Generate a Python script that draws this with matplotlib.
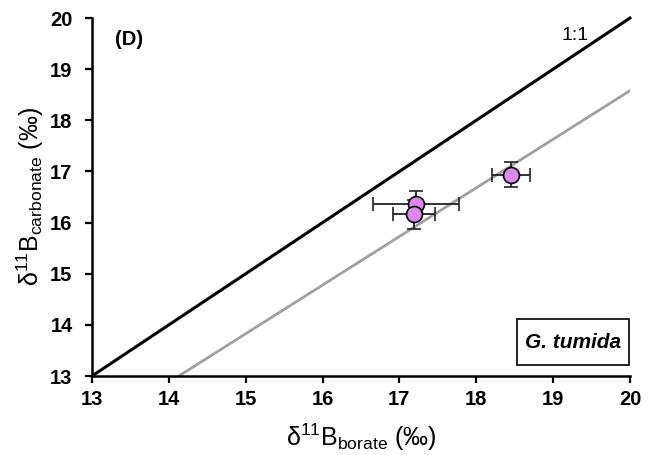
import matplotlib
matplotlib.use("Agg")
import matplotlib.pyplot as plt
from matplotlib.patches import Rectangle

plt.rcParams['font.family'] = ['Liberation Sans', 'DejaVu Sans']
plt.rcParams['mathtext.default'] = 'regular'

# data
borate = [17.22, 17.19, 18.45]
borate_err = [0.56, 0.27, 0.25]
carbonate = [16.37, 16.16, 16.94]
carbonate_err = [0.25, 0.28, 0.25]
one_to_one_x = [13, 20]
one_to_one_y = [13, 20]
fit_x = [14.13, 20]
fit_y = [13, 18.58]
ticks = [13, 14, 15, 16, 17, 18, 19, 20]

fig = plt.figure(figsize=(6.6, 4.55), dpi=100)
ax = fig.add_axes([0.1394, 0.1736, 0.8151, 0.7868])

ax.plot(one_to_one_x, one_to_one_y, color='black', lw=2.2, zorder=2, clip_on=False)
ax.plot(fit_x, fit_y, color='#a0a0a0', lw=2.0, zorder=2)
ax.errorbar(borate, carbonate, xerr=borate_err, yerr=carbonate_err, fmt='o',
            ms=11.5, mfc='#dd88f0', mec='black', mew=1.2, ecolor='#222222',
            elinewidth=1.3, capsize=5, capthick=1.3, zorder=3)

ax.set_xlim(13, 20)
ax.set_ylim(13, 20)
ax.set_xticks(ticks)
ax.set_yticks(ticks)
ax.set_xticklabels([str(t) for t in ticks], fontsize=14.5, fontweight='bold')
ax.set_yticklabels([str(t) for t in ticks], fontsize=14.5, fontweight='bold')
ax.tick_params(direction='out', length=5, width=1.6)
ax.tick_params(axis='x', pad=5)
ax.tick_params(axis='y', pad=9)
for s in ['top', 'right']:
    ax.spines[s].set_visible(False)
for s in ['left', 'bottom']:
    ax.spines[s].set_linewidth(1.8)

ax.set_xlabel('δ$^{11}$B$_{borate}$ (‰)', fontsize=18, labelpad=9)
ax.set_ylabel('δ$^{11}$B$_{carbonate}$ (‰)', fontsize=18, labelpad=3)

ax.text(0.042, 0.94, '(D)', transform=ax.transAxes, fontsize=14.5, fontweight='bold',
        ha='left', va='center')
ax.text(0.872, 0.95, '1:1', transform=ax.transAxes, fontsize=14, ha='left', va='center')
ax.add_patch(Rectangle((0.790, 0.031), 0.208, 0.128, transform=ax.transAxes,
                       fc='white', ec='black', lw=1.2, zorder=4))
ax.text(0.894, 0.095, 'G. tumida', transform=ax.transAxes, fontsize=15,
        fontweight='bold', fontstyle='italic', ha='center', va='center', zorder=5)

fig.savefig('out.png', dpi=100)
